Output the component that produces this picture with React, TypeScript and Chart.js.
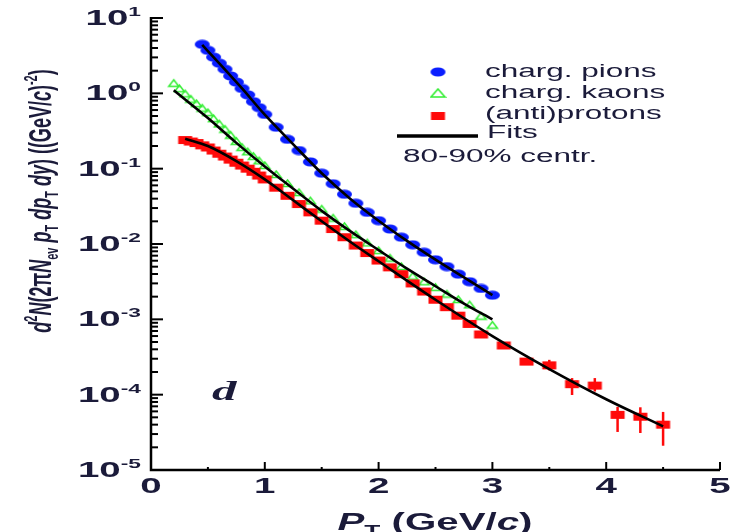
import React, { useEffect, useRef } from 'react';
import { Chart, registerables } from 'chart.js';

Chart.register(...registerables);

// ---------- data ----------
const pionPt = [0.45, 0.5, 0.55, 0.6, 0.65, 0.7, 0.75, 0.8, 0.85, 0.9, 0.95, 1.0,
  1.1, 1.2, 1.3, 1.4, 1.5, 1.6, 1.7, 1.8, 1.9, 2.0, 2.1, 2.2, 2.3, 2.4, 2.5, 2.6, 2.7, 2.8, 2.9, 3.0];
const pionY = [4.47, 3.72, 3.02, 2.51, 2.09, 1.70, 1.41, 1.16, 0.955, 0.776, 0.646, 0.525,
  0.355, 0.245, 0.174, 0.123, 0.087, 0.063, 0.0457, 0.0347, 0.0263, 0.0204, 0.0158, 0.0123,
  0.00977, 0.00776, 0.00617, 0.00501, 0.00398, 0.00316, 0.00257, 0.00209];

const kaonPt = [0.2, 0.25, 0.3, 0.35, 0.4, 0.45, 0.5, 0.55, 0.6, 0.65, 0.7, 0.75, 0.8, 0.85, 0.9, 0.95, 1.0,
  1.1, 1.2, 1.3, 1.4, 1.5, 1.6, 1.7, 1.8, 1.9, 2.0, 2.1, 2.2, 2.3, 2.4, 2.5, 2.6, 2.7, 2.8, 2.9, 3.0];
const kaonY = [1.38, 1.17, 1.0, 0.85, 0.74, 0.646, 0.562, 0.468, 0.398, 0.339, 0.282, 0.234, 0.195, 0.170, 0.148, 0.129, 0.112,
  0.0851, 0.0646, 0.049, 0.038, 0.0295, 0.0224, 0.0174, 0.0135, 0.0105, 0.0083, 0.0066, 0.0051,
  0.0038, 0.0032, 0.0027, 0.0022, 0.00186, 0.00158, 0.00112, 0.00085];

const protonPt = [0.3, 0.35, 0.4, 0.45, 0.5, 0.55, 0.6, 0.65, 0.7, 0.75, 0.8, 0.85, 0.9, 0.95, 1.0,
  1.1, 1.2, 1.3, 1.4, 1.5, 1.6, 1.7, 1.8, 1.9, 2.0, 2.1, 2.2, 2.3, 2.4, 2.5, 2.6, 2.7, 2.8, 2.9,
  3.1, 3.3, 3.5, 3.7, 3.9, 4.1, 4.3, 4.5];
const protonY = [0.24, 0.229, 0.219, 0.204, 0.191, 0.174, 0.158, 0.145, 0.132, 0.120, 0.110, 0.100, 0.091, 0.081, 0.072,
  0.056, 0.0437, 0.0339, 0.0263, 0.0204, 0.0158, 0.0123, 0.00955, 0.00759, 0.00603, 0.0049, 0.00398,
  0.0030, 0.00234, 0.00182, 0.00145, 0.00112, 0.00087, 0.00063,
  0.00045, 0.000275, 0.000245, 0.000138, 0.000132, 5.4e-5, 5.1e-5, 4.0e-5];

const protonErrPt = [3.5, 3.7, 3.9, 4.1, 4.3, 4.5];
const protonErrLow = [2.1e-4, 9.9e-5, 1.1e-4, 3.2e-5, 3.1e-5, 2.1e-5];
const protonErrHigh = [2.9e-4, 1.66e-4, 1.66e-4, 6.9e-5, 6.8e-5, 5.9e-5];

const pionFitPt = [0.45, 0.6, 0.8, 1.0, 1.25, 1.5, 1.75, 2.0, 2.25, 2.5, 2.75, 3.0];
const pionFitY = [4.4, 2.5, 1.16, 0.52, 0.21, 0.087, 0.040, 0.0204, 0.0110, 0.0062, 0.0036, 0.0021];

const kaonFitPt = [0.2, 0.5, 0.75, 1.0, 1.25, 1.5, 1.75, 2.0, 2.25, 2.5, 2.75, 3.0];
const kaonFitY = [1.1, 0.47, 0.22, 0.107, 0.054, 0.0275, 0.0148, 0.0083, 0.0047, 0.00275, 0.00162, 0.00100];

const protonFitPt = [0.3, 0.5, 0.75, 1.0, 1.25, 1.5, 1.75, 2.0, 2.5, 3.0, 3.5, 4.0, 4.5];
const protonFitY = [0.25, 0.20, 0.126, 0.072, 0.038, 0.020, 0.0107, 0.0059, 0.00182, 0.0006, 0.000219, 8.7e-5, 3.8e-5];

const xTickValues = [0, 1, 2, 3, 4, 5];
const xMinorTicks = [0.5, 1.5, 2.5, 3.5, 4.5];
const yDecades = [-5, -4, -3, -2, -1, 0, 1];

const legendLabels = ['charg. pions', 'charg. kaons', '(anti)protons', 'Fits'];
const centralityLabel = '80-90% centr.';
const panelLabel = 'd';

// ---------- styling ----------
const SX = 1.75;
const TEXT = '#1b1b3a';
const SANS = '"Liberation Sans", Arial, Helvetica, sans-serif';
const SERIF = '"Liberation Serif", "Times New Roman", serif';
const BLUE = '#0a1eff';
const GREEN = '#33ee33';
const RED = '#ff0a0a';

type Seg = { t: string; font: string; dy: number };

function segsWidth(ctx: CanvasRenderingContext2D, segs: Seg[]) {
  let w = 0;
  for (const s of segs) { ctx.font = s.font; w += ctx.measureText(s.t).width; }
  return w;
}
function drawSegs(ctx: CanvasRenderingContext2D, segs: Seg[], x: number, y: number) {
  let cx = x;
  for (const s of segs) {
    ctx.font = s.font;
    ctx.fillText(s.t, cx, y + s.dy);
    cx += ctx.measureText(s.t).width;
  }
}
function richText(ctx: CanvasRenderingContext2D, segs: Seg[], x: number, y: number, align: 'left' | 'center' | 'right') {
  ctx.save();
  ctx.textAlign = 'left';
  ctx.textBaseline = 'alphabetic';
  ctx.fillStyle = TEXT;
  const w = segsWidth(ctx, segs) * SX;
  const x0 = align === 'left' ? x : align === 'center' ? x - w / 2 : x - w;
  ctx.translate(x0, y);
  ctx.scale(SX, 1);
  drawSegs(ctx, segs, 0, 0);
  ctx.restore();
}

function makeMarker(kind: 'circle' | 'rect' | 'tri' | 'triLegend') {
  const c = document.createElement('canvas');
  c.width = 17; c.height = 10;
  const g = c.getContext('2d')!;
  if (kind === 'circle') {
    g.fillStyle = BLUE;
    g.beginPath(); g.ellipse(8.5, 5, 7.5, 4.5, 0, 0, Math.PI * 2); g.fill();
  } else if (kind === 'rect') {
    g.fillStyle = RED;
    g.fillRect(1.5, 1, 14, 8);
  } else if (kind === 'tri') {
    g.strokeStyle = GREEN; g.lineWidth = 1.5;
    g.beginPath(); g.moveTo(8.5, 2); g.lineTo(13.5, 8.5); g.lineTo(3.5, 8.5); g.closePath(); g.stroke();
  } else {
    g.strokeStyle = GREEN; g.lineWidth = 1.6;
    g.beginPath(); g.moveTo(8.5, 1); g.lineTo(15.5, 9); g.lineTo(1.5, 9); g.closePath(); g.stroke();
  }
  return c;
}

const pts = (xs: number[], ys: number[]) => xs.map((x, i) => ({ x, y: ys[i] }));

export default function App() {
  const ref = useRef<HTMLCanvasElement>(null);
  useEffect(() => {
    const canvas = ref.current!;
    const mCircle = makeMarker('circle');
    const mRect = makeMarker('rect');
    const mTri = makeMarker('tri');
    const mTriLegend = makeMarker('triLegend');

    const decor = {
      id: 'decor',
      beforeDatasetsDraw(chart: any) {
        const ctx: CanvasRenderingContext2D = chart.ctx;
        const xs = chart.scales.x, ys = chart.scales.y;
        const left = xs.getPixelForValue(0);
        const right = xs.getPixelForValue(5);
        const top = ys.getPixelForValue(10);
        const bottom = ys.getPixelForValue(1e-5);
        ctx.save();
        ctx.strokeStyle = '#000';
        ctx.lineCap = 'butt';
        ctx.lineWidth = 2.5;
        ctx.beginPath();
        ctx.moveTo(left, top - 1); ctx.lineTo(left, bottom);
        ctx.lineTo(right, bottom);
        ctx.stroke();
        ctx.lineWidth = 2;
        for (const k of yDecades) {
          const y = ys.getPixelForValue(Math.pow(10, k));
          ctx.beginPath(); ctx.moveTo(left, y); ctx.lineTo(left + 12, y); ctx.stroke();
          if (k < 1) {
            for (let m = 2; m <= 9; m++) {
              const ym = ys.getPixelForValue(m * Math.pow(10, k));
              ctx.beginPath(); ctx.moveTo(left, ym); ctx.lineTo(left + 7, ym); ctx.stroke();
            }
          }
        }
        for (const v of xTickValues) {
          if (v === 0) continue;
          const x = xs.getPixelForValue(v);
          ctx.beginPath(); ctx.moveTo(x, bottom); ctx.lineTo(x, bottom - 8); ctx.stroke();
        }
        for (const v of xMinorTicks) {
          const x = xs.getPixelForValue(v);
          ctx.beginPath(); ctx.moveTo(x, bottom); ctx.lineTo(x, bottom - 3); ctx.stroke();
        }
        ctx.strokeStyle = RED;
        ctx.lineWidth = 2.5;
        protonErrPt.forEach((p, i) => {
          const x = xs.getPixelForValue(p);
          ctx.beginPath();
          ctx.moveTo(x, ys.getPixelForValue(protonErrLow[i]));
          ctx.lineTo(x, ys.getPixelForValue(protonErrHigh[i]));
          ctx.stroke();
        });
        ctx.restore();
      },
      afterDraw(chart: any) {
        const ctx: CanvasRenderingContext2D = chart.ctx;
        const xs = chart.scales.x, ys = chart.scales.y;
        const bottom = ys.getPixelForValue(1e-5);
        for (const k of yDecades) {
          const y = ys.getPixelForValue(Math.pow(10, k));
          richText(ctx, [
            { t: '10', font: `bold 22px ${SANS}`, dy: 0 },
            { t: String(k), font: `bold 13px ${SANS}`, dy: -9 },
          ], 141, y + 7, 'right');
        }
        for (const v of xTickValues) {
          const x = xs.getPixelForValue(v);
          richText(ctx, [{ t: String(v), font: `bold 22px ${SANS}`, dy: 0 }], x, bottom + 23, 'center');
        }
        richText(ctx, [
          { t: 'P', font: `italic bold 23px ${SANS}`, dy: 0 },
          { t: 'T', font: `bold 15px ${SANS}`, dy: 5 },
          { t: ' (GeV/', font: `bold 23px ${SANS}`, dy: 0 },
          { t: 'c', font: `italic bold 23px ${SANS}`, dy: 0 },
          { t: ')', font: `bold 23px ${SANS}`, dy: 0 },
        ], 435, 530, 'center');
        const F = 18, f = 11;
        const ySegs: Seg[] = [
          { t: 'd', font: `italic bold ${F}px ${SANS}`, dy: 0 },
          { t: '2', font: `bold ${f}px ${SANS}`, dy: -8 },
          { t: 'N', font: `italic bold ${F}px ${SANS}`, dy: 0 },
          { t: '(2\u03c0', font: `bold ${F}px ${SANS}`, dy: 0 },
          { t: 'N', font: `italic bold ${F}px ${SANS}`, dy: 0 },
          { t: 'ev', font: `bold ${f}px ${SANS}`, dy: 4 },
          { t: ' p', font: `italic bold ${F}px ${SANS}`, dy: 0 },
          { t: 'T', font: `bold ${f}px ${SANS}`, dy: 4 },
          { t: ' dp', font: `italic bold ${F}px ${SANS}`, dy: 0 },
          { t: 'T', font: `bold ${f}px ${SANS}`, dy: 4 },
          { t: ' dy', font: `italic bold ${F}px ${SANS}`, dy: 0 },
          { t: ') ((GeV/', font: `bold ${F}px ${SANS}`, dy: 0 },
          { t: 'c', font: `italic bold ${F}px ${SANS}`, dy: 0 },
          { t: ')', font: `bold ${F}px ${SANS}`, dy: 0 },
          { t: '-2', font: `bold ${f}px ${SANS}`, dy: -8 },
          { t: ')', font: `bold ${F}px ${SANS}`, dy: 0 },
        ];
        ctx.save();
        ctx.fillStyle = TEXT;
        ctx.textAlign = 'left';
        ctx.textBaseline = 'alphabetic';
        const yw = segsWidth(ctx, ySegs);
        ctx.translate(51, 201);
        ctx.scale(SX, 1);
        ctx.rotate(-Math.PI / 2);
        drawSegs(ctx, ySegs, -yw / 2, 0);
        ctx.restore();

        const markers = [mCircle, mTriLegend, mRect];
        const my = [72, 93, 116];
        const ty = [77, 98, 119];
        for (let i = 0; i < 3; i++) {
          ctx.drawImage(markers[i], 438 - markers[i].width / 2, my[i] - markers[i].height / 2);
          richText(ctx, [{ t: legendLabels[i], font: `18px ${SANS}`, dy: 0 }], 485, ty[i], 'left');
        }
        ctx.save();
        ctx.strokeStyle = '#000';
        ctx.lineWidth = 3.5;
        ctx.beginPath(); ctx.moveTo(397, 136); ctx.lineTo(478, 136); ctx.stroke();
        ctx.restore();
        richText(ctx, [{ t: legendLabels[3], font: `18px ${SANS}`, dy: 0 }], 487, 138, 'left');
        richText(ctx, [{ t: centralityLabel, font: `18px ${SANS}`, dy: 0 }], 403, 162, 'left');

        richText(ctx, [{ t: panelLabel, font: `italic bold 28px ${SERIF}`, dy: 0 }], 212, 400, 'left');
      },
    };

    const fitStyle = {
      showLine: true,
      borderColor: '#000',
      borderWidth: 2.6,
      pointRadius: 0,
      cubicInterpolationMode: 'monotone' as const,
      order: 0,
    };

    const chart = new Chart(canvas, {
      type: 'line',
      data: {
        datasets: [
          { label: 'pion fit', data: pts(pionFitPt, pionFitY), ...fitStyle },
          { label: 'kaon fit', data: pts(kaonFitPt, kaonFitY), ...fitStyle },
          { label: 'proton fit', data: pts(protonFitPt, protonFitY), ...fitStyle },
          { label: legendLabels[0], data: pts(pionPt, pionY), showLine: false, pointStyle: mCircle, pointRadius: 5, order: 3 },
          { label: legendLabels[1], data: pts(kaonPt, kaonY), showLine: false, pointStyle: mTri, pointRadius: 5, order: 2 },
          { label: legendLabels[2], data: pts(protonPt, protonY), showLine: false, pointStyle: mRect, pointRadius: 5, order: 1 },
        ] as any,
      },
      options: {
        responsive: false,
        devicePixelRatio: 1,
        animation: false,
        layout: { padding: { left: 151, right: 21, top: 18, bottom: 62 } },
        plugins: { legend: { display: false }, tooltip: { enabled: false } },
        scales: {
          x: { type: 'linear', min: 0, max: 5, display: false },
          y: { type: 'logarithmic', min: 1e-5, max: 10, display: false },
        },
      },
      plugins: [decor],
    });
    return () => chart.destroy();
  }, []);

  return (
    <div style={{ position: 'absolute', left: 0, top: 0, width: 741, height: 532, background: '#fff' }}>
      <canvas ref={ref} width={741} height={532} style={{ display: 'block', width: 741, height: 532, filter: 'blur(0.6px)' }} />
    </div>
  );
}
